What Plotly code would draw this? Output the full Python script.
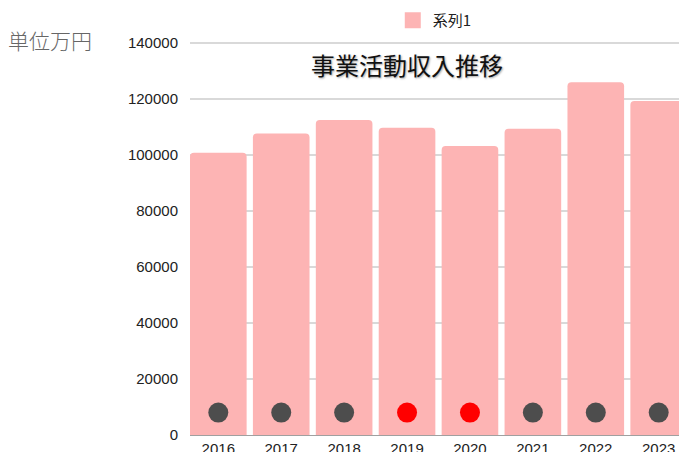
import plotly.graph_objects as go

years = ["2016", "2017", "2018", "2019", "2020", "2021", "2022", "2023"]
income = [100800, 107700, 112500, 109700, 103200, 109400, 126000, 119300]
dot_level = [8000, 8000, 8000, 8000, 8000, 8000, 8000, 8000]
dot_colors = ["#4d4d4d", "#4d4d4d", "#4d4d4d", "#ff0000", "#ff0000", "#4d4d4d", "#4d4d4d", "#4d4d4d"]
y_ticks = [0, 20000, 40000, 60000, 80000, 100000, 120000, 140000]
series_name = "系列1"
bar_color = "#fdb4b4"

fig = go.Figure()
fig.add_trace(go.Bar(
    x=years, y=income, name=series_name,
    marker=dict(color=bar_color, line=dict(width=0)),
    showlegend=False, legendgroup="s1",
))
# legend entry for the bar series (larger square swatch)
fig.add_trace(go.Scatter(
    x=[None], y=[None], mode="markers", name=series_name, legendgroup="s1",
    marker=dict(symbol="square", size=17, color=bar_color, line=dict(width=0)),
    showlegend=True,
))
fig.add_trace(go.Scatter(
    x=years, y=dot_level, mode="markers",
    marker=dict(size=20, color=dot_colors, line=dict(width=0)),
    showlegend=False, hoverinfo="skip",
))

fig.update_layout(
    width=687, height=452,
    margin=dict(l=182, r=8, t=33, b=25, autoexpand=False),
    paper_bgcolor="white", plot_bgcolor="white",
    bargap=0.1, barcornerradius=4,
    font=dict(family="Liberation Sans, Arial, sans-serif", size=15, color="#222222"),
    showlegend=True,
    legend=dict(orientation="h", x=0.408, y=1.01, xanchor="left", yanchor="bottom",
                itemsizing="trace",
                font=dict(family="Noto Sans CJK JP, Liberation Sans", size=15, color="#222"),
                bgcolor="rgba(0,0,0,0)"),
    xaxis=dict(range=[-0.45, 7.45], showgrid=False, showline=True, linecolor="#a0a0a0",
               linewidth=1, ticks="", automargin=False, fixedrange=True),
    yaxis=dict(range=[0, 140700], tickvals=y_ticks, ticktext=[str(v) for v in y_ticks],
               showgrid=True, gridcolor="#d9d9d9", gridwidth=1.5, zeroline=False,
               showline=False, ticks="", ticklabelstandoff=11, automargin=False),
    annotations=[
        dict(text="事業活動収入推移", xref="paper", yref="paper", x=0.4357, y=0.94,
             xanchor="center", yanchor="middle", showarrow=False,
             font=dict(family="Noto Sans CJK JP", size=24, color="#111",
                       shadow="1px 1px 2px rgba(0,0,0,0.35)")),
        dict(text="単位万円", xref="paper", yref="paper", x=-0.37, y=1.003,
             xanchor="left", yanchor="middle", showarrow=False,
             font=dict(family="Noto Sans CJK JP", size=21, color="#666666", weight=300)),
    ],
)

fig.write_html("out.html")
